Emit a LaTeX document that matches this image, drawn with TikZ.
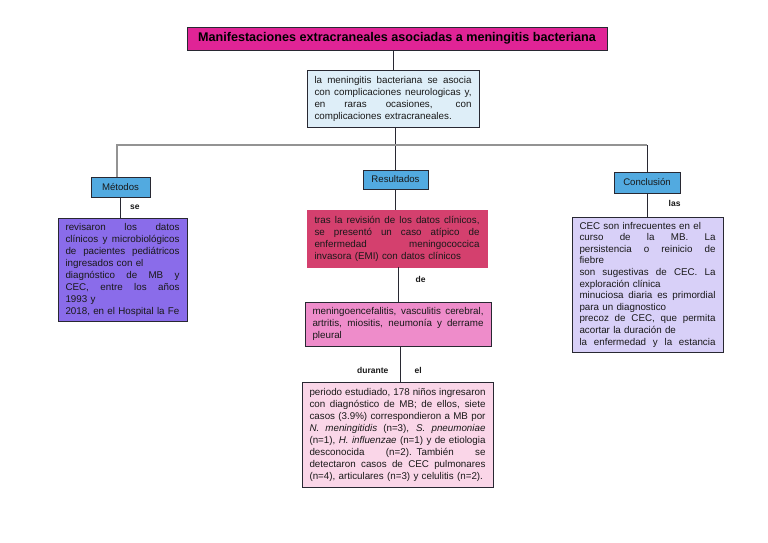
\documentclass[tikz,border=0pt]{standalone}
\usepackage{fontspec}
\setmainfont{Liberation Sans}
\definecolor{titlefill}{RGB}{224,36,150}
\definecolor{introfill}{RGB}{222,238,248}
\definecolor{labfill}{RGB}{82,170,224}
\definecolor{purplefill}{RGB}{138,108,234}
\definecolor{redfill}{RGB}{212,64,110}
\definecolor{pinkfill}{RGB}{238,140,202}
\definecolor{lowfill}{RGB}{250,214,232}
\definecolor{lavfill}{RGB}{216,208,248}
\definecolor{edge}{RGB}{40,40,50}
\newcommand\jl[1]{\leavevmode\hbox to\hsize{\spaceskip=\fontdimen2\font plus 1fil\relax #1}}
\begin{document}
\begin{tikzpicture}[x=1pt,y=-1pt,
  box/.style={draw=edge, line width=0.8pt, inner xsep=7.5pt, inner ysep=2pt,
    font=\fontsize{9.8}{12}\selectfont, align=left, text=black!90},
  lab/.style={draw=edge, line width=0.8pt, fill=labfill, inner sep=1pt,
    font=\fontsize{9.6}{11}\selectfont, text=black!90},
  conn/.style={draw=edge, line width=0.7pt},
  bar/.style={draw=gray!85, line width=1.2pt},
  word/.style={font=\bfseries\fontsize{8.5}{10}\selectfont, text=black!90}]
\useasboundingbox (0,0) rectangle (768,543);

\node[draw=edge, line width=0.9pt, fill=titlefill, minimum width=420pt, minimum height=23pt,
  font=\bfseries\fontsize{12.6}{14}\selectfont, text=black] (title) at (397,38.5)
  {Manifestaciones extracraneales asociadas a meningitis bacteriana};

\node[box, fill=introfill, minimum width=172pt, minimum height=57pt, text width=157pt] (intro) at (393,98.5)
  {\jl{la meningitis bacteriana se asocia}\\
   \jl{con complicaciones neurologicas y,}\\
   \jl{en raras ocasiones, con}\\
   complicaciones extracraneales.};

\node[lab, minimum width=65pt, minimum height=19pt] (res) at (395.5,179.5) {Resultados};
\node[lab, minimum width=59pt, minimum height=20pt] (met) at (120.5,187) {Métodos};
\node[lab, minimum width=66pt, minimum height=21pt] (conc) at (647,182.5) {Conclusión};

\node[box, fill=purplefill, minimum width=129pt, minimum height=103pt, text width=114pt] (metbox) at (122.5,269.5)
  {\jl{revisaron los datos}\\
   \jl{clínicos y microbiológicos}\\
   \jl{de pacientes pediátricos}\\
   ingresados con el\\
   \jl{diagnóstico de MB y}\\
   \jl{CEC, entre los años}\\
   1993 y\\
   2018, en el Hospital la Fe};

\node[box, fill=redfill, draw=redfill, minimum width=180pt, minimum height=57pt, text width=165pt] (red) at (397,238.5)
  {\jl{tras la revisión de los datos clínicos,}\\
   \jl{se presentó un caso atípico de}\\
   \jl{enfermedad meningococcica}\\
   invasora (EMI) con datos clínicos};

\node[box, fill=pinkfill, minimum width=186pt, minimum height=44pt, text width=171pt] (pink) at (398,324)
  {\jl{meningoencefalitis, vasculitis cerebral,}\\
   \jl{artritis, miositis, neumonía y derrame}\\
   pleural};

\node[box, fill=lowfill, minimum width=191pt, minimum height=105pt, text width=176pt] (low) at (397.5,434.5)
  {\jl{periodo estudiado, 178 niños ingresaron}\\
   \jl{con diagnóstico de MB; de ellos, siete}\\
   \jl{casos (3.9\%) correspondieron a MB por}\\
   \jl{\textit{N. meningitidis} (n=3), \textit{S. pneumoniae}}\\
   \jl{(n=1), \textit{H. influenzae} (n=1) y de etiologia}\\
   \jl{desconocida (n=2). También se}\\
   \jl{detectaron casos de CEC pulmonares}\\
   (n=4), articulares (n=3) y celulitis (n=2).};

\node[box, fill=lavfill, minimum width=151pt, minimum height=135pt, text width=136pt,
  font=\fontsize{9.8}{11.6}\selectfont] (concbox) at (647.5,284.5)
  {CEC son infrecuentes en el\\
   \jl{curso de la MB. La}\\
   \jl{persistencia o reinicio de}\\
   fiebre\\
   \jl{son sugestivas de CEC. La}\\
   exploración clínica\\
   \jl{minuciosa diaria es primordial}\\
   para un diagnostico\\
   \jl{precoz de CEC, que permita}\\
   acortar la duración de\\
   \jl{la enfermedad y la estancia}};

% connectors
\coordinate (barleft) at (117,145);
\draw[conn] (title.south -| intro.north) -- (intro.north);
\draw[conn] (intro.south -| res.north) -- (res.north);
\draw[bar] (met.north -| barleft) -- (barleft) -- (conc.north |- barleft);
\draw[conn] (conc.north |- barleft) -- (conc.north);
\draw[conn] (met.south) -- node[word, right, xshift=6pt] {se} (metbox.north -| met.south);
\draw[conn] (res.south) -- (red.north -| res.south);
\coordinate (c1) at (398,0);
\coordinate (c2) at (400,0);
\draw[conn] (red.south -| c1) -- node[word, right, xshift=14pt, yshift=5pt] {de} (pink.north -| c1);
\draw[conn] (pink.south -| c2) -- node[word, pos=0.67, left, xshift=-8pt] {durante}
   node[word, pos=0.67, right, xshift=11pt] {el} (low.north -| c2);
\draw[conn] (conc.south) -- node[word, right, xshift=18pt, yshift=2pt] {las} (concbox.north -| conc.south);
\end{tikzpicture}
\end{document}
